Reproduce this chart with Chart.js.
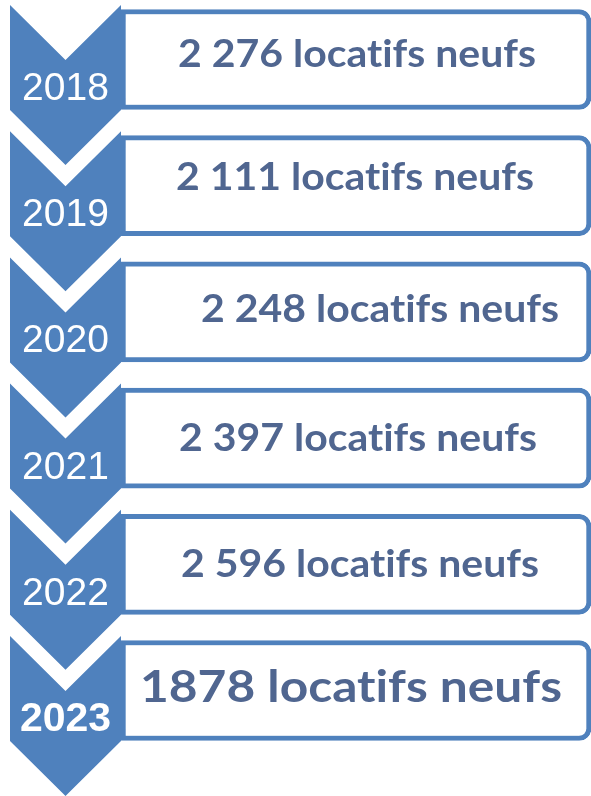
<!DOCTYPE html>
<html>
<head>
<meta charset="utf-8">
<script src="https://cdn.jsdelivr.net/npm/chart.js@4/dist/chart.umd.min.js"></script>
<style>
  html, body { margin: 0; padding: 0; background: #ffffff; }
  #wrap { width: 591px; height: 796px; }
</style>
</head>
<body>
<div id="wrap"><canvas id="chevronChart"></canvas></div>
<script>
// =======================================
// DATA
// =======================================

const years = ["2018", "2019", "2020", "2021", "2022", "2023"];

const newRentals = ["2 276", "2 111", "2 248", "2 397", "2 596", "1878"];

const suffix = " locatifs neufs";

// every box spans the whole row
const boxSpans = years.map(() => [0, 1]);

// =======================================
// STYLE
// =======================================

const blue = "#4F81BD";
const textBlue = "#506690";

// text placement inside each box (centre x, baseline shift), as in the picture
const labelX = [357, 355, 380, 358, 360, 351];
const labelDy = [7, 4, 10, 13, 13, 11];

// chevrons + texts, drawn on top of the boxes
const chevronPlugin = {
    id: "chevrons",
    afterDatasetsDraw(chart) {
        const ctx = chart.ctx;
        const yScale = chart.scales.y;
        const left = 10, right = 121, mid = 65.5;
        const depth = 55, body = 105;

        years.forEach((year, i) => {
            const cy = yScale.getPixelForValue(i);
            const top = cy - 54.5;
            const last = i === years.length - 1;

            // chevron
            ctx.save();
            ctx.fillStyle = blue;
            ctx.beginPath();
            ctx.moveTo(left, top);
            ctx.lineTo(mid, top + depth);
            ctx.lineTo(right, top);
            ctx.lineTo(right, top + body);
            ctx.lineTo(mid, top + body + depth);
            ctx.lineTo(left, top + body);
            ctx.closePath();
            ctx.fill();

            // year
            ctx.fillStyle = "#ffffff";
            ctx.textAlign = "center";
            ctx.textBaseline = "alphabetic";
            ctx.font = last
                ? "bold 41px 'Liberation Sans', Arial, sans-serif"
                : "39px 'Liberation Sans', Arial, sans-serif";
            ctx.fillText(year, mid, top + 95);
            ctx.restore();

            // value text (zero-width non-joiner keeps Lato from using its "ti" ligature)
            const text = (newRentals[i] + suffix).replace("ti", "t\u200Ci");
            const size = last ? 44 : 38;
            const target = last ? 422 : 358;
            ctx.save();
            ctx.fillStyle = textBlue;
            ctx.font = "bold " + size + "px Lato, 'Open Sans', sans-serif";
            ctx.textAlign = "center";
            ctx.textBaseline = "alphabetic";
            const w = ctx.measureText(text).width;
            ctx.translate(labelX[i], cy + labelDy[i]);
            ctx.scale(target / w, 1);
            ctx.fillText(text, 0, 0);
            ctx.restore();
        });
    }
};

// =======================================
// CHART
// =======================================

const chevronChart = new Chart(
document.getElementById("chevronChart"),
{
    type: "bar",

    data: {
        labels: years,
        datasets: [{
            data: boxSpans,
            backgroundColor: "#ffffff",
            borderColor: blue,
            borderWidth: 5,
            borderSkipped: false,
            borderRadius: { topLeft: 0, bottomLeft: 0, topRight: 12, bottomRight: 12 },
            barThickness: 100,
            clip: false
        }]
    },

    options: {
        indexAxis: "y",
        responsive: true,
        maintainAspectRatio: false,
        animation: false,
        layout: {
            padding: { top: 59.5, bottom: 105.5, left: 121, right: 0 }
        },
        scales: {
            x: { display: false, min: 0, max: 1 },
            y: { display: false, offset: false }
        },
        plugins: {
            legend: { display: false },
            tooltip: { enabled: false }
        }
    },

    plugins: [chevronPlugin]
});
</script>
</body>
</html>
